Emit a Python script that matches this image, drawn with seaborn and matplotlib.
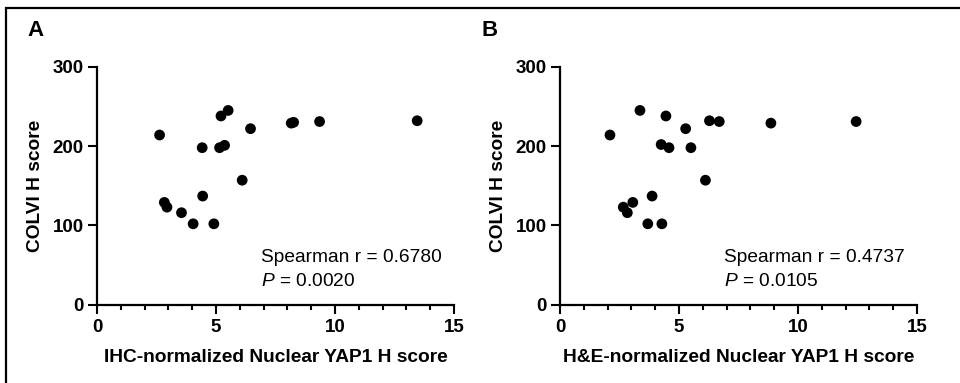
import matplotlib.pyplot as plt
import matplotlib.patches as patches
import seaborn as sns
import pandas as pd

# 데이터
ihc_x = [2.63, 2.83, 2.94, 3.55, 4.04, 4.42, 4.44, 4.91, 5.15, 5.21,
         5.36, 5.51, 6.10, 6.45, 8.16, 8.26, 9.35, 13.45]
ihc_y = [214, 129, 123, 116, 102, 198, 137, 102, 198, 238,
         201, 245, 157, 222, 229, 230, 231, 232]

he_x = [2.10, 3.36, 4.45, 5.28, 6.28, 6.69, 8.86, 12.44, 4.25, 4.58,
        5.50, 6.11, 3.87, 3.06, 2.66, 2.83, 3.69, 4.28]
he_y = [214, 245, 238, 222, 232, 231, 229, 231, 202, 198,
        198, 157, 137, 129, 123, 116, 102, 102]

panel_labels = ['A', 'B']
x_labels = ['IHC-normalized Nuclear YAP1 H score', 'H&E-normalized Nuclear YAP1 H score']
y_label = 'COLVI H score'
r_texts = ['Spearman r = 0.6780', 'Spearman r = 0.4737']
p_texts = ['0.0020', '0.0105']

# 스타일 - 글자, 축 모두 검정
sns.set_style('ticks', {'axes.edgecolor': 'black', 'text.color': 'black',
                        'axes.labelcolor': 'black', 'xtick.color': 'black',
                        'ytick.color': 'black'})
plt.rcParams['font.family'] = ['Liberation Sans', 'DejaVu Sans']
plt.rcParams['mathtext.fontset'] = 'custom'
plt.rcParams['mathtext.rm'] = 'Liberation Sans'
plt.rcParams['mathtext.it'] = 'Liberation Sans:italic'

fig = plt.figure(figsize=(9.6, 3.83), dpi=100)
ax1 = fig.add_axes([0.101, 0.2045, 0.372, 0.621])
ax2 = fig.add_axes([0.5833, 0.2045, 0.372, 0.621])

# 바깥 테두리 (왼쪽, 위쪽만 보이게)
fig.add_artist(patches.Rectangle((0.006, -0.1), 1.2, 1.08, transform=fig.transFigure,
                                 fill=False, edgecolor='black', linewidth=1.6, clip_on=False))

data = [pd.DataFrame({'x': ihc_x, 'y': ihc_y}), pd.DataFrame({'x': he_x, 'y': he_y})]

for i, ax in enumerate([ax1, ax2]):
    sns.scatterplot(x='x', y='y', data=data[i], ax=ax, color='black',
                    s=60, edgecolor='none', linewidth=0)
    ax.set_xlim(0, 15)
    ax.set_ylim(0, 300)
    ax.set_xticks([0, 5, 10, 15])
    ax.set_xticks(range(0, 16), minor=True)
    ax.set_yticks([0, 100, 200, 300])
    sns.despine(ax=ax)
    for sp in ['left', 'bottom']:
        ax.spines[sp].set_linewidth(1.6)
    ax.tick_params(axis='both', which='major', length=6.5, width=1.5, labelsize=13.5, pad=3)
    ax.tick_params(axis='x', which='minor', length=3.5, width=1.5)
    ax.tick_params(axis='x', which='major', pad=4)
    for lab in ax.get_xticklabels() + ax.get_yticklabels():
        lab.set_fontweight('bold')
    ax.set_xlabel(x_labels[i], fontsize=13.8, fontweight='bold', labelpad=9)
    ax.set_ylabel(y_label, fontsize=13.8, fontweight='bold', labelpad=6)
    ax.text(6.9, 54, r_texts[i], fontsize=13.8)
    ax.text(6.9, 24, r'$\it{P}$' + ' = ' + p_texts[i], fontsize=13.8)

fig.text(0.029, 0.905, panel_labels[0], fontsize=16, fontweight='bold')
fig.text(0.502, 0.905, panel_labels[1], fontsize=16, fontweight='bold')

fig.savefig('out.png', dpi=100)
